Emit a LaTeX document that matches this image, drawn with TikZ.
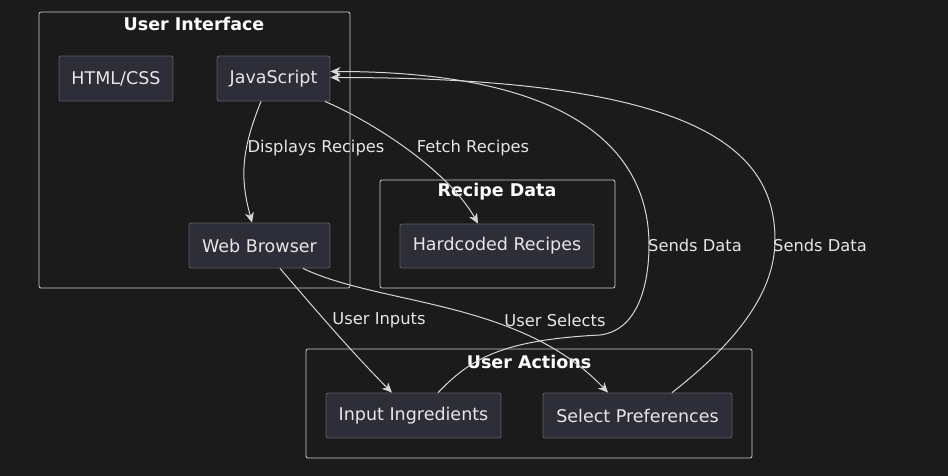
\documentclass[tikz,border=0pt]{standalone}
\usepackage{fontspec}
\setmainfont{DejaVu Sans}
\usetikzlibrary{arrows.meta}
\definecolor{bg}{HTML}{1B1B1B}
\definecolor{nodefill}{HTML}{2E2E38}
\definecolor{nodeborder}{HTML}{5E5E66}
\definecolor{edgecol}{HTML}{D6D6D6}
\definecolor{txt}{HTML}{E6E6E6}
\definecolor{clusterborder}{HTML}{D0D0D0}
\begin{document}
\begin{tikzpicture}[x=1pt,y=-1pt,
  box/.style={draw=nodeborder, fill=nodefill, rounded corners=2pt, line width=0.8pt,
    text=txt, font=\fontsize{17.5}{21}\selectfont, inner sep=0pt},
  cluster/.style={draw=clusterborder, line width=0.8pt, rounded corners=2pt, inner sep=0pt},
  ctitle/.style={text=white, font=\fontsize{17.5}{21}\selectfont\bfseries, inner sep=0pt},
  edge/.style={draw=edgecol, line width=1pt, -{Stealth[length=10pt,width=9pt,inset=3pt]}},
  elabel/.style={text=txt, font=\fontsize{16.3}{19}\selectfont, inner sep=0pt}]
\fill[bg] (0,0) rectangle (948,476);
\useasboundingbox (0,0) rectangle (948,476);

% clusters
\node[cluster, minimum width=311pt, minimum height=276pt] (ui) at (194.5,150) {};
\node[ctitle] (uit) at (194,24) {User Interface};
\node[cluster, minimum width=235pt, minimum height=108pt] (rd) at (497.5,234) {};
\node[ctitle] (rdt) at (497,192) {Recipe Data};
\node[cluster, minimum width=446pt, minimum height=109pt] (ua) at (529,403.5) {};
\node[ctitle] (uat) at (529,362) {User Actions};

% nodes
\node[box, minimum width=114pt, minimum height=45pt] (html) at (116,78.5) {HTML/CSS};
\node[box, minimum width=113pt, minimum height=45pt] (js) at (273.5,78.5) {JavaScript};
\node[box, minimum width=141pt, minimum height=45pt] (wb) at (259.5,245.5) {Web Browser};
\node[box, minimum width=194pt, minimum height=44pt] (hr) at (497,246) {Hardcoded Recipes};
\node[box, minimum width=175pt, minimum height=45pt] (ii) at (413.5,415.5) {Input Ingredients};
\node[box, minimum width=189pt, minimum height=45pt] (sp) at (637.5,415.5) {Select Preferences};

% edges
\draw[edge] ([xshift=-12.5pt]js.south) .. controls +(-20,50) and +(-12,-45) .. ([xshift=-7.5pt]wb.north);
\draw[edge] ([xshift=51.5pt]js.south) .. controls +(55,24) and +(-28,-50) .. ([xshift=-19pt]hr.north);
\draw[edge] ([xshift=20.5pt]wb.south) .. controls +(30,35) and +(-40,-40) .. ([xshift=-21.5pt]ii.north);
\draw[edge] ([xshift=43.5pt]wb.south) .. controls +(77,37) and +(-88,-93) .. ([xshift=-29.5pt]sp.north);
\draw[edge] ([xshift=24.5pt]ii.north) .. controls +(32,-33) and +(-100,5) .. (600,335)
  .. controls +(40,-5) and +(0,35) .. (649,245)
  .. controls +(0,-75) and +(270,0) .. ([yshift=7pt]js.east);
\draw[edge] ([xshift=34.5pt]sp.north) .. controls +(68,-53) and +(0,50) .. (775,240)
  .. controls +(0,-90) and +(370,0) .. ([yshift=1pt]js.east);

% edge labels
\node[elabel] (l1) at (316,148) {Displays Recipes};
\node[elabel] (l2) at (473,148) {Fetch Recipes};
\node[elabel] (l3) at (379,320) {User Inputs};
\node[elabel] (l4) at (555,320) {User Selects};
\node[elabel] (l5) at (695,245) {Sends Data};
\node[elabel] (l6) at (820,245) {Sends Data};
\end{tikzpicture}
\end{document}
